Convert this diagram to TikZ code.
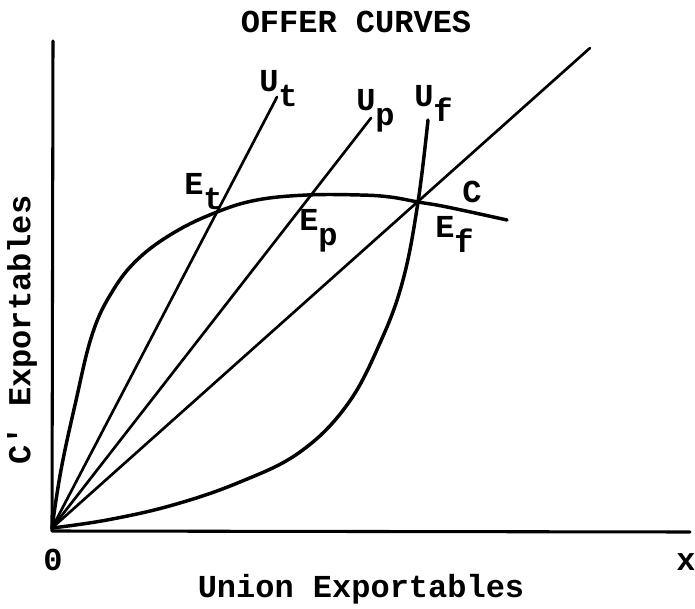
\documentclass[tikz,border=0pt]{standalone}
\usepackage{fontspec}
\setmonofont{Liberation Mono}
\newcommand{\ttlab}{\ttfamily\bfseries\fontsize{24}{28}\selectfont}
\newcommand{\lowr}[1]{\raisebox{-11pt}{#1}}
\begin{document}
\begin{tikzpicture}[x=0.75pt,y=-0.75pt, line cap=round, line join=round,
  lbl/.style={font=\ttlab, inner sep=0pt},
  axisline/.style={line width=2.3pt},
  ray/.style={line width=2.0pt},
  curve/.style={line width=2.6pt}]
\useasboundingbox (0,0) rectangle (695,609);
% axes
\coordinate (O) at (52,528);
\coordinate (ytop) at (53,41);
\coordinate (xend) at (690,532);
\draw[axisline] (ytop) -- (52,531) -- (xend);
% rays
\coordinate (Ut) at (277,97);
\coordinate (Up) at (371,118);
\coordinate (D) at (590,48);
\draw[ray] (O) -- (Ut);
\draw[ray] (O) -- (Up);
\draw[ray] (O) -- (D);
% union offer curve U_f
\draw[curve] plot[smooth, tension=0.65] coordinates {(52,528) (107,520) (173,505) (240,482) (300,452) (347,405) (380,343) (403,280) (418,202) (428,120)};
% offer curve C
\draw[curve] plot[smooth, tension=0.65] coordinates {(52,528) (61,470) (75,405) (92,335) (112,292) (138,259) (175,232) (217,212) (257,200) (307,195) (360,195) (390,197) (418,202) (447,207) (507,220)};
% labels
\node[lbl, anchor=center] (title) at (356,22) {OFFER CURVES};
\node[lbl, anchor=base west] (lUt) at (259,92) {U\lowr{t}};
\node[lbl, anchor=base west] (lUp) at (356,111) {U\lowr{p}};
\node[lbl, anchor=base west] (lUf) at (414,107) {U\lowr{f}};
\node[lbl, anchor=base west] (lEt) at (184,195) {E\lowr{t}};
\node[lbl, anchor=base west] (lEp) at (299,231) {E\lowr{p}};
\node[lbl, anchor=base west] (lEf) at (435,238) {E\lowr{f}};
\node[lbl, anchor=center] (lC) at (472,192) {C};
\node[lbl, anchor=center] (zero) at (53,560) {0};
\node[lbl, anchor=center] (xlab) at (686,562) {x};
\node[lbl, anchor=center] (xtitle) at (361,589) {Union Exportables};
\node[lbl, anchor=center, rotate=90] (ytitle) at (22,330) {C' Exportables};
\end{tikzpicture}
\end{document}
